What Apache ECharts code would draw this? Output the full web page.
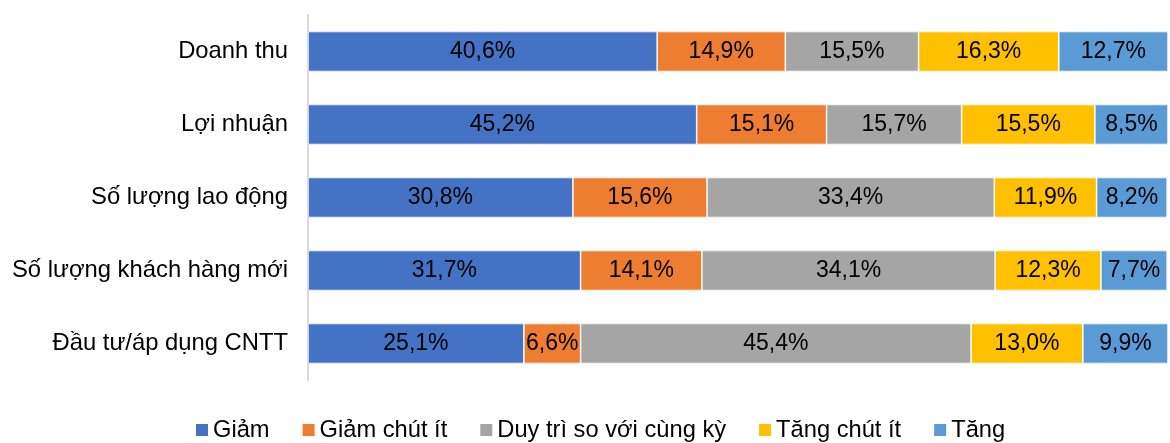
<!DOCTYPE html>
<html><head><meta charset="utf-8">
<script src="https://cdn.jsdelivr.net/npm/echarts@6/dist/echarts.min.js"></script>
<style>html,body{margin:0;padding:0;background:#fff}#c{width:1170px;height:443px}</style>
</head><body><div id="c"></div>
<script>
const categories = ["Doanh thu","Lợi nhuận","Số lượng lao động","Số lượng khách hàng mới","Đầu tư/áp dụng CNTT"];
const seriesNames = ["Giảm","Giảm chút ít","Duy trì so với cùng kỳ","Tăng chút ít","Tăng"];
const giam = [40.6,45.2,30.8,31.7,25.1];
const giamChutIt = [14.9,15.1,15.6,14.1,6.6];
const duyTri = [15.5,15.7,33.4,34.1,45.4];
const tangChutIt = [16.3,15.5,11.9,12.3,13.0];
const tang = [12.7,8.5,8.2,7.7,9.9];
const colors = ["#4472C4","#ED7D31","#A5A5A5","#FFC000","#5B9BD5"];
const values = [giam,giamChutIt,duyTri,tangChutIt,tang];
const FONT = "Liberation Sans, Arial, sans-serif";
const chart = echarts.init(document.getElementById('c'));
chart.setOption({
  animation:false,
  grid:{left:308,right:2,top:15,bottom:63,containLabel:false},
  xAxis:{type:'value',min:0,max:100,show:false},
  yAxis:{type:'category',data:categories,inverse:true,
    axisLine:{show:true,lineStyle:{color:'#D9D9D9',width:2}},
    axisTick:{show:false},
    axisLabel:{color:'#000',fontSize:23.8,fontFamily:FONT,margin:20}},
  legend:{top:416,left:194,padding:0,itemWidth:14,itemHeight:14,itemGap:31,icon:'rect',
    textStyle:{color:'#000',fontSize:23.7,lineHeight:28,fontFamily:FONT,padding:[0,0,0,-1]},
    data:seriesNames},
  series: seriesNames.map((n,i)=>({
    name:n,type:'bar',stack:'s',data:values[i],barWidth:40,
    itemStyle:{color:colors[i],borderColor:'#fff',borderWidth:0.7},
    label:{show:true,position:'inside',color:'#000',fontSize:23,fontFamily:FONT,
      formatter:p=>p.value.toFixed(1).replace('.',',')+'%'}
  }))
});
</script></body></html>
